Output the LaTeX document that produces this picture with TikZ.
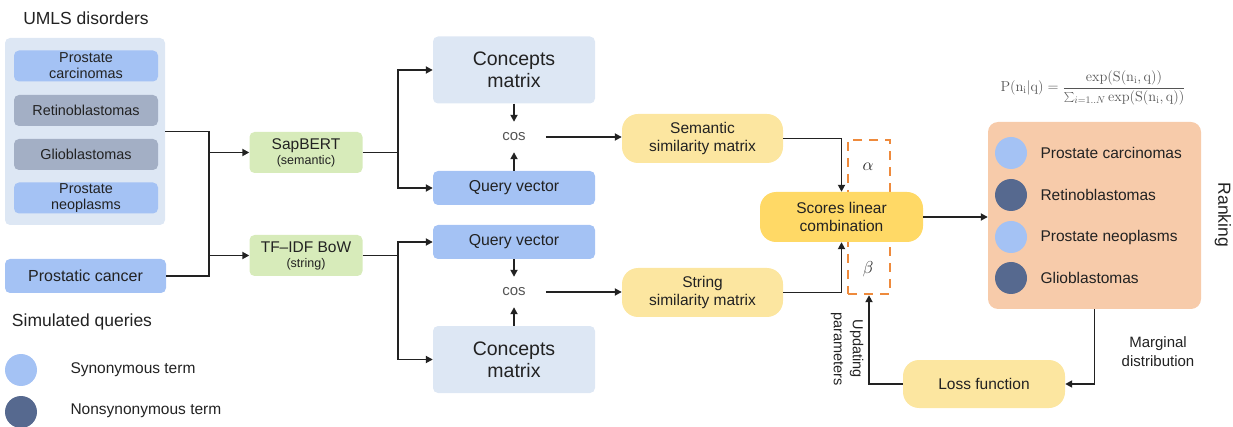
\documentclass[tikz,border=0pt]{standalone}
\usepackage[no-math]{fontspec}
\setmainfont{Liberation Sans}
\usetikzlibrary{arrows.meta}
\definecolor{ink}{HTML}{222222}
\definecolor{paleblue}{HTML}{DDE7F4}
\definecolor{midblue}{HTML}{A4C2F4}
\definecolor{greyblue}{HTML}{A3AFC5}
\definecolor{slate}{HTML}{56698F}
\definecolor{leaf}{HTML}{D7EBBA}
\definecolor{butter}{HTML}{FCE6A0}
\definecolor{gold}{HTML}{FFD966}
\definecolor{peach}{HTML}{F7CBAA}
\definecolor{tangerine}{HTML}{EE8A3C}
\definecolor{formulagrey}{HTML}{555555}
\begin{document}
\begin{tikzpicture}[x=1pt,y=-1pt,
  txt/.style={text=ink, font=\fontsize{15.5}{18}\selectfont},
  head/.style={text=ink, font=\fontsize{17.5}{20}\selectfont},
  box/.style={rounded corners=5pt, align=center, inner sep=0pt, text=ink,
    minimum width=144pt, minimum height=31pt, font=\fontsize{14.4}{16}\selectfont},
  wide/.style={box, minimum width=162pt, font=\fontsize{15.8}{18}\selectfont},
  enc/.style={box, fill=leaf, minimum width=113pt, minimum height=41pt,
    font=\fontsize{15.5}{17}\selectfont},
  yel/.style={box, rounded corners=16pt, fill=butter, minimum width=161pt,
    minimum height=49pt, font=\fontsize{15.5}{18}\selectfont},
  cosine/.style={text=formulagrey, inner xsep=20pt, minimum height=30pt,
    font=\fontsize{15}{16}\selectfont},
  dot/.style={circle, minimum size=32pt, inner sep=0pt},
  line/.style={draw=ink, line width=1.8pt},
  arr/.style={line, -{Triangle[length=7pt,width=7pt]}}]
  \useasboundingbox (0,0) rectangle (1233,427);

  % inputs
  \node[head] (umlsT) at (86,18) {UMLS disorders};
  \node[box, fill=paleblue, minimum width=160pt, minimum height=187pt] (umls) at (85,131.5) {};
  \node[box, fill=midblue] (d1) at (86,66) {Prostate\\carcinomas};
  \node[box, fill=greyblue] (d2) at (86,110.5) {Retinoblastomas};
  \node[box, fill=greyblue] (d3) at (86,154.5) {Glioblastomas};
  \node[box, fill=midblue] (d4) at (86,198) {Prostate\\neoplasms};
  \node[box, fill=midblue, minimum width=161pt, minimum height=34pt,
    font=\fontsize{16}{18}\selectfont] (query) at (85.5,276) {Prostatic cancer};
  \node[head] (simT) at (82,322) {Simulated queries};
  \node[dot, fill=midblue] (syn) at (21,370) {};
  \node[txt, anchor=west] (synT) at (67,370) {Synonymous term};
  \node[dot, fill=slate] (non) at (21,412) {};
  \node[txt, anchor=west] (nonT) at (67,411) {Nonsynonymous term};

  % encoders
  \node[enc] (sap) at (306,152.5) {SapBERT\\[-2pt]{\fontsize{12.5}{14}\selectfont(semantic)}};
  \node[enc] (tfidf) at (306,255.5) {TF--IDF BoW\\[-2pt]{\fontsize{12.5}{14}\selectfont(string)}};
  \coordinate (jl) at (209,0);
  \coordinate (jm) at (398,0);
  \draw[line] (umls.east) -| (jl |- query.east) -- (query.east);
  \draw[arr] (jl |- sap.west) -- (sap.west);
  \draw[arr] (jl |- tfidf.west) -- (tfidf.west);

  % matrices and vectors
  \node[wide, fill=paleblue, minimum height=67pt, font=\fontsize{19.5}{22}\selectfont] (cm1) at (514,70) {Concepts\\matrix};
  \node[wide, fill=midblue, minimum height=34pt] (qv1) at (514,188) {Query vector};
  \node[wide, fill=midblue, minimum height=34pt] (qv2) at (514,242) {Query vector};
  \node[wide, fill=paleblue, minimum height=67pt, font=\fontsize{19.5}{22}\selectfont] (cm2) at (514,359.5) {Concepts\\matrix};
  \node[cosine] (cos1) at (514,137) {cos};
  \node[cosine] (cos2) at (514,292) {cos};
  \draw[arr] (sap.east) -| (jm |- cm1.west) -- (cm1.west);
  \draw[arr] (sap.east -| jm) |- (qv1.west);
  \draw[arr] (tfidf.east) -| (jm |- qv2.west) -- (qv2.west);
  \draw[arr] (tfidf.east -| jm) |- (cm2.west);
  \draw[arr] (cm1) -- (cos1);
  \draw[arr] (qv1) -- (cos1);
  \draw[arr] (qv2) -- (cos2);
  \draw[arr] (cm2) -- (cos2);

  % similarity and combination
  \node[yel] (sem) at (702.5,138.5) {Semantic\\similarity matrix};
  \node[yel] (str) at (702.5,292.5) {String\\similarity matrix};
  \draw[arr] (cos1.east) -- (cos1.east -| sem.west);
  \draw[arr] (cos2.east) -- (cos2.east -| str.west);
  \node[draw=tangerine, line width=2.4pt, dash pattern=on 9pt off 7pt,
    minimum width=42pt, minimum height=154pt] (params) at (869,217) {};
  \node[text=ink, font=\fontsize{17}{18}\selectfont] (alpha) at (868,167) {$\alpha$};
  \node[text=ink, font=\fontsize{17}{18}\selectfont] (beta) at (868,269) {$\beta$};
  \node[yel, fill=gold, minimum width=163pt, minimum height=50pt] (scores) at (841.5,217) {Scores linear\\combination};
  \draw[arr] (sem.east) -| (scores.north);
  \draw[arr] (str.east) -| (scores.south);

  % ranking
  \node[text=formulagrey, font=\fontsize{14.5}{17}\selectfont] (prob) at (1093,88)
    {$\mathrm{P(n_i|q)}=\displaystyle\frac{\exp\bigl(\mathrm{S(n_i,q)}\bigr)}{{\textstyle\sum_{i=1..N}}\exp\bigl(\mathrm{S(n_i,q)}\bigr)}$};
  \node[box, fill=peach, rounded corners=10pt, minimum width=213pt, minimum height=187pt] (rank) at (1094.5,215.5) {};
  \foreach \y/\c/\t [count=\i] in {153/midblue/Prostate carcinomas, 195/slate/Retinoblastomas,
      237/midblue/Prostate neoplasms, 278/slate/Glioblastomas} {
    \node[dot, fill=\c] (r\i) at (1011,\y) {};
    \node[txt, anchor=west] (rt\i) at (1037,\y) {\t};
  }
  \node[head, rotate=-90] (rankT) at (1223,215) {Ranking};
  \draw[arr] (scores.east) -- (scores.east -| rank.west);

  % training loop
  \node[yel, minimum width=162pt, minimum height=48pt] (loss) at (984,384) {Loss function};
  \node[txt, align=center, font=\fontsize{15}{19}\selectfont] (marg) at (1158,352) {Marginal\\distribution};
  \node[txt, align=center, rotate=-90, font=\fontsize{14.5}{19}\selectfont] (upd) at (847,349) {Updating\\parameters};
  \draw[arr] (rank.south) |- (loss.east);
  \draw[arr] (loss.west) -| (params.south);
\end{tikzpicture}
\end{document}
